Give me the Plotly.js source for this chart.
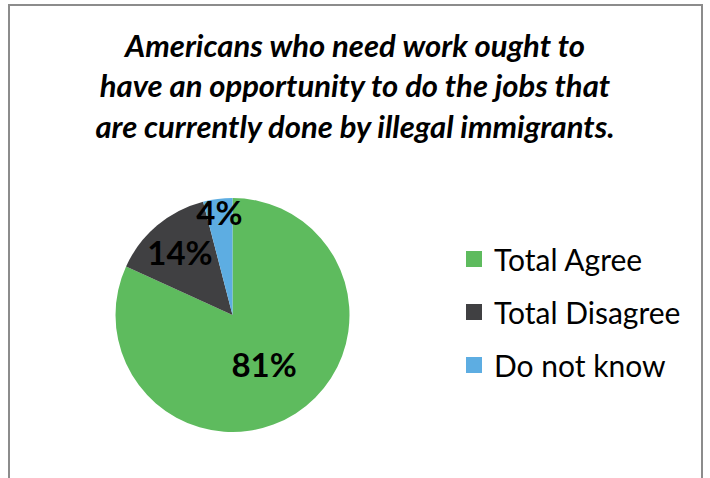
<!DOCTYPE html>
<html>
<head>
<meta charset="utf-8">
<script src="https://cdn.plot.ly/plotly-3.0.1.min.js"></script>
<style>html,body{margin:0;padding:0;background:#fff;}#chart{width:710px;height:478px;}</style>
</head>
<body>
<div id="chart"></div>
<script>
const categories = ["Total Agree", "Total Disagree", "Do not know"];
const values = [81, 14, 4];
const colors = ["#5EBB5E", "#404042", "#5DADE2"];
const titleText = "Americans who need work ought to<br>have an opportunity to do the jobs that<br>are currently done by illegal immigrants.";

const W = 710, H = 478;
const pie = {
  type: "pie",
  labels: categories,
  values: values,
  marker: {colors: colors},
  sort: false,
  direction: "clockwise",
  rotation: 0,
  texttemplate: "%{value}%",
  textposition: "inside",
  insidetextorientation: "horizontal",
  textfont: {family: "Lato, sans-serif", size: 33, color: "#000", weight: "bold"},
  hoverinfo: "label+value",
  showlegend: false,
  domain: {x: [115/W, 350/W], y: [1-432/H, 1-198/H]}
};
// legend entries (one per category, same colours as slices)
const legendTraces = categories.map((c, i) => ({
  type: "scatter", mode: "markers", x: [null], y: [null],
  name: c, legendgroup: c,
  marker: {symbol: "square", size: 16, color: colors[i]},
  showlegend: true, hoverinfo: "skip"
}));
const layout = {
  width: W, height: H,
  margin: {l: 0, r: 0, t: 0, b: 0},
  paper_bgcolor: "#fff",
  plot_bgcolor: "rgba(0,0,0,0)",
  xaxis: {visible: false}, yaxis: {visible: false},
  uniformtext: {mode: "show", minsize: 33},
  title: {text: titleText, x: 0.5, xanchor: "center", y: 1-57/H, yanchor: "top",
    font: {family: "Lato, sans-serif", size: 31, color: "#000", weight: "bold", style: "italic"}},
  showlegend: true,
  legend: {x: 454/W, y: 1-233/H, xanchor: "left", yanchor: "top",
    tracegroupgap: 11, itemwidth: 30,
    font: {family: "Lato, sans-serif", size: 30, color: "#000"}, bgcolor: "rgba(0,0,0,0)"},
  shapes: [
    {type: "rect", xref: "paper", yref: "paper", x0: 9/W, x1: 702/W, y0: -0.1, y1: 1-5/H,
     line: {color: "#8C8C8C", width: 2}, fillcolor: "rgba(0,0,0,0)"}
  ]
};
Plotly.newPlot("chart", [pie].concat(legendTraces), layout, {displayModeBar: false, staticPlot: true});
</script>
</body>
</html>
